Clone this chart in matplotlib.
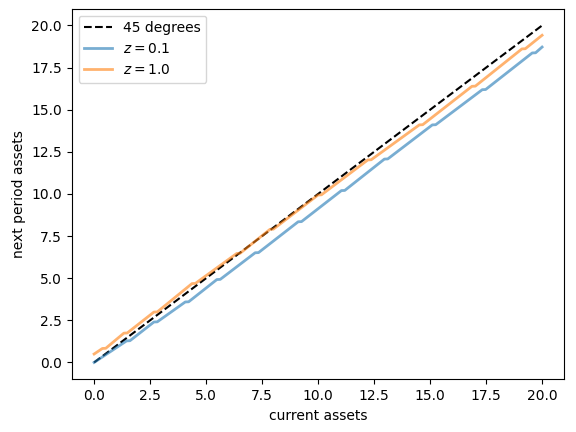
import matplotlib
matplotlib.use("Agg")
import matplotlib.pyplot as plt

# 45 degree reference
grid_ends = [0.0, 20.0]

# policy for z = 0.1
blue_x = [0.0, 1.45, 1.6, 2.67, 2.82, 4.07, 4.22, 5.48, 5.63, 7.19, 7.34, 9.11, 9.26,
          11.04, 11.19, 12.96, 13.11, 15.1, 15.25, 17.33, 17.48, 19.56, 19.71, 20.0]
blue_y = [0.0, 1.28, 1.29, 2.40, 2.41, 3.59, 3.60, 4.92, 4.93, 6.51, 6.52, 8.35, 8.36,
          10.20, 10.21, 12.07, 12.08, 14.10, 14.11, 16.19, 16.20, 18.37, 18.38, 18.72]

# policy for z = 1.0
orange_x = [0.0, 0.37, 0.52, 1.33, 1.48, 2.67, 2.82, 4.37, 4.52, 6.37, 6.52, 7.85, 8.0,
            10.0, 10.15, 12.22, 12.37, 14.52, 14.67, 16.87, 17.02, 19.1, 19.25, 20.0]
orange_y = [0.5, 0.83, 0.84, 1.74, 1.75, 2.99, 3.00, 4.68, 4.69, 6.47, 6.48, 7.90, 7.91,
            9.94, 9.95, 12.02, 12.03, 14.10, 14.11, 16.39, 16.40, 18.61, 18.62, 19.42]

fig, ax = plt.subplots(figsize=(5.76, 4.32), dpi=100)
ax.plot(grid_ends, grid_ends, 'k--', label='45 degrees')
ax.plot(blue_x, blue_y, lw=2, alpha=0.6, label='$z = 0.1$')
ax.plot(orange_x, orange_y, lw=2, alpha=0.6, label='$z = 1.0$')
ax.set_xlabel('current assets')
ax.set_ylabel('next period assets')
ax.legend(loc='upper left')

fig.subplots_adjust(left=0.1245, right=0.98, bottom=0.122, top=0.98)
plt.savefig('out.png')
